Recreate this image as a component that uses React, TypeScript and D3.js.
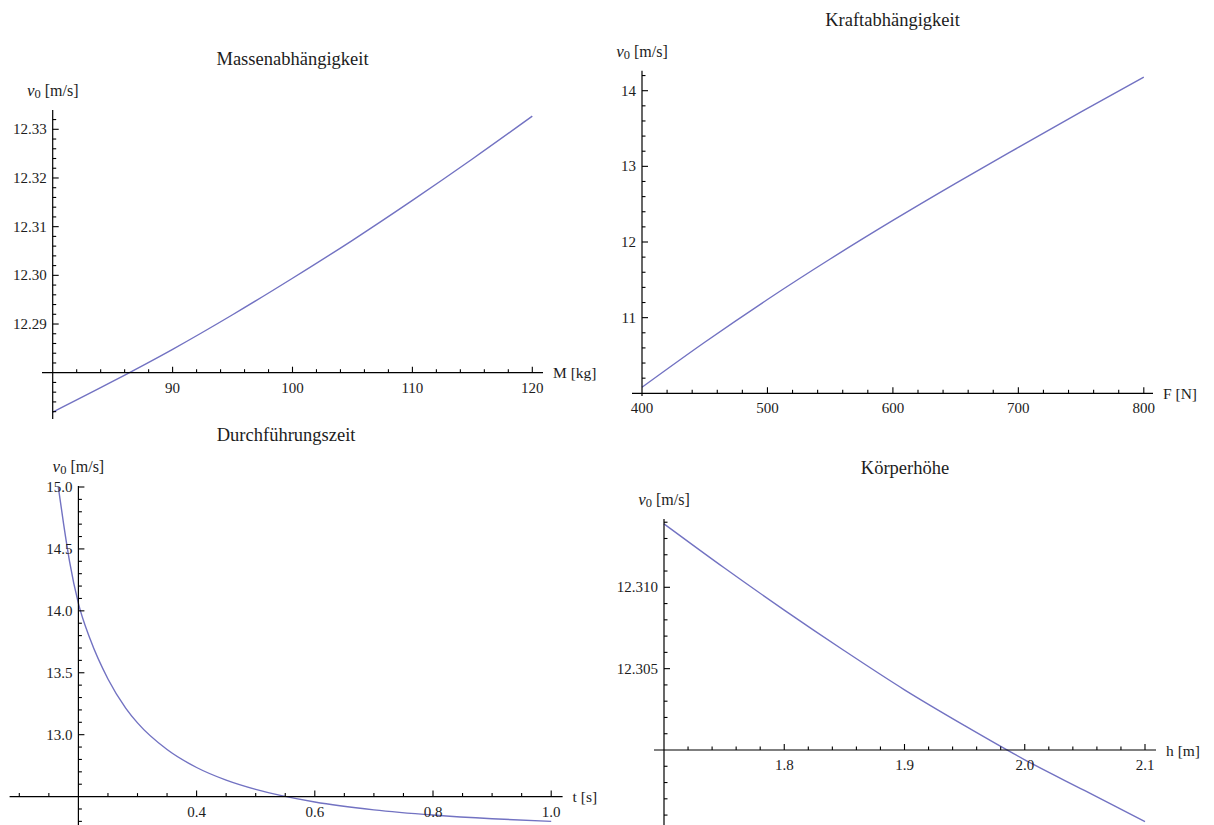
import React from "react";
import * as d3 from "d3";

// ---------- data ----------
const massM = [80, 85, 90, 95, 100, 105, 110, 115, 120];
const massV = [12.2719, 12.2782, 12.2848, 12.2919, 12.2994, 12.3072, 12.3154, 12.3239, 12.3327];

const forceF = [400, 450, 500, 550, 600, 650, 700, 750, 800];
const forceV = [10.08, 10.675, 11.24, 11.775, 12.285, 12.775, 13.25, 13.72, 14.18];

const timeT = [0.166, 0.175, 0.185, 0.2, 0.22, 0.25, 0.28, 0.3, 0.35, 0.4, 0.45, 0.5, 0.6, 0.7, 0.8, 0.9, 1.0];
const timeV = [15.0, 14.7, 14.4, 14.06, 13.77, 13.45, 13.215, 13.095, 12.88, 12.735, 12.633, 12.558, 12.456, 12.393, 12.351, 12.321, 12.3];

const heightH = [1.7, 1.75, 1.8, 1.85, 1.9, 1.95, 2.0, 2.05, 2.1];
const heightV = [12.3139, 12.3112, 12.3086, 12.3061, 12.3037, 12.3015, 12.2994, 12.2975, 12.2956];

const massXTicks = [90, 100, 110, 120];
const massYTicks = [12.29, 12.3, 12.31, 12.32, 12.33];
const forceXTicks = [400, 500, 600, 700, 800];
const forceYTicks = [11, 12, 13, 14];
const timeXTicks = [0.4, 0.6, 0.8, 1.0];
const timeYTicks = [13.0, 13.5, 14.0, 14.5, 15.0];
const heightXTicks = [1.8, 1.9, 2.0, 2.1];
const heightYTicks = [12.305, 12.31];

const titles = ["Massenabhängigkeit", "Kraftabhängigkeit", "Durchführungszeit", "Körperhöhe"];
const xLabels = ["M [kg]", "F [N]", "t [s]", "h [m]"];

const FONT = "'Liberation Serif', 'Times New Roman', 'DejaVu Serif', serif";
const LINE = "#7272c2";
const TEXT = "#1c1c1c";

type PanelCfg = {
  title: string;
  xLabel: string;
  xs: number[];
  ys: number[];
  xDom: [number, number];
  xPx: [number, number];
  yDom: [number, number];
  yPx: [number, number];
  origin: [number, number];
  xAxisPx: [number, number];
  yAxisPx: [number, number];
  xMajor: number[];
  xMinor: number;
  xFmt: string;
  yMajor: number[];
  yMinor: number;
  yFmt: string;
};

function minorTicks(scale: d3.ScaleLinear<number, number>, p0: number, p1: number, step: number) {
  const a = scale.invert(Math.min(p0, p1));
  const b = scale.invert(Math.max(p0, p1));
  const lo = Math.min(a, b);
  const hi = Math.max(a, b);
  const out: number[] = [];
  const start = Math.ceil(lo / step - 1e-6);
  const end = Math.floor(hi / step + 1e-6);
  for (let i = start; i <= end; i++) out.push(i * step);
  return out;
}

function Panel({ cfg }: { cfg: PanelCfg }) {
  const x = d3.scaleLinear().domain(cfg.xDom).range(cfg.xPx);
  const y = d3.scaleLinear().domain(cfg.yDom).range(cfg.yPx);
  const ox = x(cfg.origin[0]);
  const oy = y(cfg.origin[1]);
  const line = d3
    .line<number>()
    .x((_, i) => x(cfg.xs[i]))
    .y((d) => y(d))
    .curve(d3.curveMonotoneX);
  const path = line(cfg.ys) || "";
  const xm = minorTicks(x, cfg.xAxisPx[0] + 2, cfg.xAxisPx[1] - 2, cfg.xMinor);
  const ym = minorTicks(y, cfg.yAxisPx[0], cfg.yAxisPx[1], cfg.yMinor);
  const isMajor = (v: number, arr: number[], step: number) => arr.some((m) => Math.abs(m - v) < step / 10);
  const xf = d3.format(cfg.xFmt);
  const yf = d3.format(cfg.yFmt);
  const plotCenter = (cfg.xAxisPx[0] + cfg.xAxisPx[1]) / 2;
  const yTop = cfg.yAxisPx[0];
  return (
    <g>
      <text x={plotCenter} y={yTop - 51} textAnchor="middle" dominantBaseline="central" fontSize={18.5} fill={TEXT} fontFamily={FONT}>
        {cfg.title}
      </text>
      <text x={ox} y={yTop - 20} textAnchor="middle" dominantBaseline="central" fontSize={16} fill={TEXT} fontFamily={FONT}>
        <tspan fontStyle="italic" fontSize={17}>v</tspan>
        <tspan fontSize={12.5} dy={4}>0</tspan>
        <tspan dy={-4}> [m/s]</tspan>
      </text>
      {/* curve */}
      <path d={path} fill="none" stroke={LINE} strokeWidth={1.4} />
      {/* axes */}
      <line x1={cfg.xAxisPx[0]} x2={cfg.xAxisPx[1]} y1={oy} y2={oy} stroke="#000" strokeWidth={1.2} />
      <line x1={ox} x2={ox} y1={cfg.yAxisPx[0]} y2={cfg.yAxisPx[1]} stroke="#000" strokeWidth={1.2} />
      {xm.map((v, i) => {
        const major = isMajor(v, cfg.xMajor, cfg.xMinor);
        if (Math.abs(x(v) - ox) < 1) return null;
        return <line key={"xm" + i} x1={x(v)} x2={x(v)} y1={oy} y2={oy - (major ? 6 : 3.5)} stroke="#000" strokeWidth={1.1} />;
      })}
      {ym.map((v, i) => {
        const major = isMajor(v, cfg.yMajor, cfg.yMinor);
        if (Math.abs(y(v) - oy) < 1) return null;
        return <line key={"ym" + i} x1={ox} x2={ox + (major ? 6 : 3.5)} y1={y(v)} y2={y(v)} stroke="#000" strokeWidth={1.1} />;
      })}
      {cfg.xMajor.map((v, i) => (
        <text key={"xl" + i} x={x(v)} y={oy + 20} textAnchor="middle" fontSize={15} fill={TEXT} fontFamily={FONT}>
          {xf(v)}
        </text>
      ))}
      {cfg.yMajor.map((v, i) => (
        <text key={"yl" + i} x={ox - 6} y={y(v)} textAnchor="end" dominantBaseline="central" fontSize={15} fill={TEXT} fontFamily={FONT}>
          {yf(v)}
        </text>
      ))}
      <text x={cfg.xAxisPx[1] + 10} y={oy} dominantBaseline="central" fontSize={15.5} fill={TEXT} fontFamily={FONT}>
        {cfg.xLabel}
      </text>
    </g>
  );
}

const panels: PanelCfg[] = [
  {
    title: titles[0], xLabel: xLabels[0], xs: massM, ys: massV,
    xDom: [80, 120], xPx: [52.7, 532.3], yDom: [12.28, 12.33], yPx: [372.7, 129.3],
    origin: [80, 12.28], xAxisPx: [42, 543], yAxisPx: [110, 419],
    xMajor: massXTicks, xMinor: 2, xFmt: "d", yMajor: massYTicks, yMinor: 0.002, yFmt: ".2f",
  },
  {
    title: titles[1], xLabel: xLabels[1], xs: forceF, ys: forceV,
    xDom: [400, 800], xPx: [642, 1143.8], yDom: [10, 14], yPx: [393.3, 90.7],
    origin: [400, 10], xAxisPx: [632, 1153], yAxisPx: [70.7, 396],
    xMajor: forceXTicks, xMinor: 20, xFmt: "d", yMajor: forceYTicks, yMinor: 0.2, yFmt: "d",
  },
  {
    title: titles[2], xLabel: xLabels[2], xs: timeT, ys: timeV,
    xDom: [0.2, 1.0], xPx: [78.4, 551.2], yDom: [12.5, 15.0], yPx: [796.6, 487],
    origin: [0.2, 12.5], xAxisPx: [9.6, 562.6], yAxisPx: [486, 830],
    xMajor: timeXTicks, xMinor: 0.05, xFmt: ".1f", yMajor: timeYTicks, yMinor: 0.1, yFmt: ".1f",
  },
  {
    title: titles[3], xLabel: xLabels[3], xs: heightH, ys: heightV,
    xDom: [1.7, 2.1], xPx: [664, 1145], yDom: [12.3, 12.31], yPx: [750, 587.3],
    origin: [1.7, 12.3], xAxisPx: [654, 1156], yAxisPx: [519, 830],
    xMajor: heightXTicks, xMinor: 0.02, xFmt: ".1f", yMajor: heightYTicks, yMinor: 0.001, yFmt: ".3f",
  },
];

export default function App() {
  return (
    <svg
      width={1214}
      height={825}
      viewBox="0 0 1214 825"
      style={{ position: "absolute", left: 0, top: 0, background: "#fff" }}
    >
      <rect x={0} y={0} width={1214} height={825} fill="#fff" />
      {panels.map((p, i) => (
        <Panel key={i} cfg={p} />
      ))}
    </svg>
  );
}
